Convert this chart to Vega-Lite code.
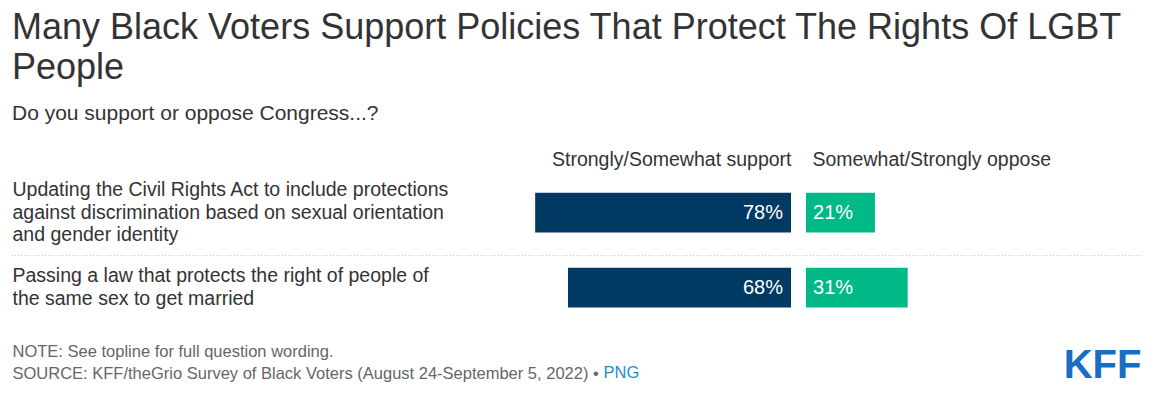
{
  "$schema": "https://vega.github.io/schema/vega-lite/v6.json",
  "width": 1129,
  "height": 150,
  "autosize": {"type": "none"},
  "padding": {"left": 12, "top": 175, "right": 10, "bottom": 68},
  "background": "white",
  "config": {"view": {"stroke": null}, "font": "Liberation Sans"},
  "title": {
    "text": ["Many Black Voters Support Policies That Protect The Rights Of LGBT", "People"],
    "subtitle": "Do you support or oppose Congress...?",
    "anchor": "start",
    "frame": "group",
    "font": "Liberation Sans",
    "fontSize": 36,
    "fontWeight": "normal",
    "color": "#333333",
    "lineHeight": 40,
    "subtitleFont": "Liberation Sans",
    "subtitleFontSize": 21,
    "subtitleColor": "#333333",
    "subtitlePadding": 16,
    "offset": 24
  },
  "data": {
    "values": [
      {"question": "Updating the Civil Rights Act to include protections|against discrimination based on sexual orientation|and gender identity", "support": 0.78, "oppose": 0.21},
      {"question": "Passing a law that protects the right of people of|the same sex to get married", "support": 0.68, "oppose": 0.31}
    ]
  },
  "encoding": {
    "y": {
      "field": "question",
      "type": "nominal",
      "sort": null,
      "scale": {"paddingInner": 0.47, "paddingOuter": 0.235},
      "axis": {
        "orient": "left",
        "title": null,
        "domain": false,
        "ticks": false,
        "tickSize": 0,
        "grid": false,
        "labelAlign": "left",
        "labelBaseline": "middle",
        "labelPadding": 0,
        "labelLimit": 0,
        "labelFont": "Liberation Sans",
        "labelFontSize": 19.5,
        "labelColor": "#333333",
        "labelLineHeight": 22.5,
        "labelOffset": {"condition": {"test": "indexof(datum.label, 'Updating') == 0", "value": -22.5}, "value": -11.25},
        "labelExpr": "split(datum.label, '|')"
      }
    }
  },
  "layer": [
    {
      "mark": {"type": "bar", "color": "#003a63"},
      "encoding": {
        "x": {
          "field": "support",
          "type": "quantitative",
          "scale": {"domain": [-1.067, 2.375], "reverse": true, "zero": false, "nice": false},
          "axis": {
            "orient": "top",
            "title": null,
            "values": [0, -0.064],
            "grid": false,
            "domain": false,
            "ticks": false,
            "tickSize": 0,
            "labelFlush": false,
            "labelOverlap": false,
            "labelBound": false,
            "labelLimit": 0,
            "labelPadding": 10,
            "labelBaseline": "alphabetic",
            "labelFont": "Liberation Sans",
            "labelFontSize": 19.5,
            "labelColor": "#333333",
            "labelExpr": "datum.value < 0 ? 'Somewhat/Strongly oppose' : 'Strongly/Somewhat support'",
            "labelAlign": {"condition": {"test": "datum.value < 0", "value": "left"}, "value": "right"}
          }
        },
        "x2": {"datum": 0}
      }
    },
    {
      "mark": {"type": "bar", "color": "#00b987"},
      "encoding": {
        "x": {
          "field": "oppose",
          "type": "quantitative",
          "scale": {"domain": [-2.4207, 1.0213], "zero": false, "nice": false},
          "axis": {
            "orient": "bottom",
            "values": [1.0213, -0.6189],
            "grid": false,
            "domain": false,
            "ticks": false,
            "tickSize": 0,
            "labelFlush": false,
            "labelOverlap": false,
            "labelBound": false,
            "labelLimit": 0,
            "labelPadding": 52,
            "labelBaseline": "alphabetic",
            "labelExpr": "datum.value > 0 ? 'KFF' : 'PNG'",
            "labelAlign": {"condition": {"test": "datum.value > 0", "value": "right"}, "value": "left"},
            "labelFont": "Liberation Sans",
            "labelFontSize": {"condition": {"test": "datum.value > 0", "value": 40}, "value": 16.5},
            "labelFontWeight": {"condition": {"test": "datum.value > 0", "value": "bold"}, "value": "normal"},
            "labelColor": {"condition": {"test": "datum.value > 0", "value": "#1a6dc4"}, "value": "#1b8fcf"},
            "title": ["NOTE: See topline for full question wording.", "SOURCE: KFF/theGrio Survey of Black Voters (August 24-September 5, 2022) •"],
            "titleX": 0,
            "titleY": 31,
            "titleAlign": "left",
            "titleAnchor": "start",
            "titleAngle": 0,
            "titleBaseline": "alphabetic",
            "titleFont": "Liberation Sans",
            "titleFontSize": 16.5,
            "titleFontWeight": "normal",
            "titleColor": "#666666",
            "titleLineHeight": 22
          }
        },
        "x2": {"datum": 0}
      }
    },
    {
      "layer": [
        {
          "mark": {"type": "text", "align": "right", "baseline": "middle", "dx": -23, "color": "white", "fontSize": 20, "font": "Liberation Sans"},
          "encoding": {
            "x": {"datum": 0, "type": "quantitative", "scale": {"domain": [-2.4207, 1.0213], "zero": false, "nice": false}, "axis": null},
            "text": {"field": "support", "type": "quantitative", "format": ".0%"}
          }
        },
        {
          "mark": {"type": "text", "align": "left", "baseline": "middle", "dx": 7, "color": "white", "fontSize": 20, "font": "Liberation Sans"},
          "encoding": {
            "x": {"datum": 0, "type": "quantitative", "scale": {"domain": [-2.4207, 1.0213], "zero": false, "nice": false}, "axis": null},
            "text": {"field": "oppose", "type": "quantitative", "format": ".0%"}
          }
        }
      ]
    },
    {
      "mark": {"type": "rule", "color": "#cccccc", "strokeDash": [1, 2], "strokeWidth": 1, "yOffset": 43, "clip": true},
      "encoding": {}
    }
  ],
  "resolve": {"scale": {"x": "independent"}, "axis": {"x": "independent"}}
}
